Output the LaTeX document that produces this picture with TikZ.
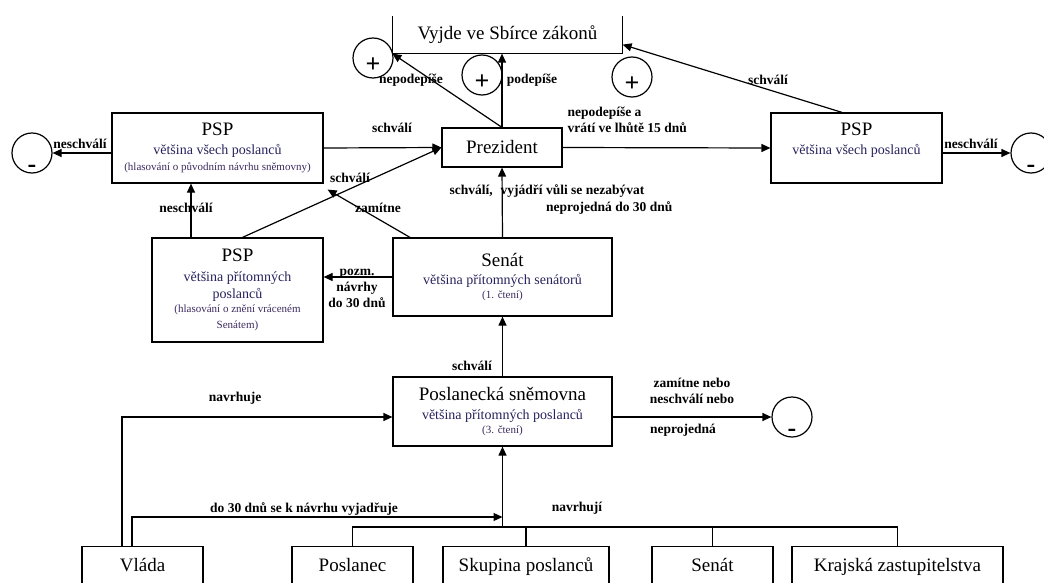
\documentclass[tikz,border=0pt]{standalone}
\usepackage{fontspec}
\setmainfont{Liberation Serif}
\usepackage{tikz}
\usetikzlibrary{arrows.meta,calc}
\usepackage{xcolor}
\definecolor{podtitul}{RGB}{38,33,92}
\definecolor{poznamka}{RGB}{60,42,94}

% Texty v ramecku
\newcommand{\boxtitul}[1]{{\fontsize{19}{19}\selectfont #1}}
\newcommand{\boxpod}[1]{{\color{podtitul}\fontsize{14}{14}\selectfont #1}}
\newcommand{\boxpozn}[1]{{\color{poznamka}\fontsize{11}{11}\selectfont #1}}

\begin{document}
\begin{tikzpicture}[x=1pt,y=-1pt,line width=1.2pt,
        sipka/.style={-{Triangle[length=9pt,width=8pt]}},
        box/.style={draw,rectangle,inner sep=0pt,align=center,font=\fontsize{11}{16}\selectfont},
        kruh/.style={draw,circle,minimum size=40pt,inner sep=0pt,font=\bfseries\fontsize{26}{26}\selectfont},
        popis/.style={inner sep=0pt,font=\bfseries\fontsize{13.5}{16}\selectfont}]

        \useasboundingbox (0,0) rectangle (1044,583);

        % Vyjde ve Sbirce zakonu (horni okraj chybi)
        \node[box,draw=none,minimum width=229pt,minimum height=36pt] (sbirka) at (507.5,35) {\boxtitul{Vyjde ve Sbírce zákonů}};
        \draw (sbirka.north west) -- (sbirka.south west) -- (sbirka.south east) -- (sbirka.north east);

        % Ramecky
        \node[box,minimum width=120pt,minimum height=39pt] (prez) at (502,147.5) {\boxtitul{Prezident}};
        \node[box,minimum width=211pt,minimum height=70pt] (pspA) at (217.5,148)
            {\boxtitul{PSP}\\[3pt]\boxpod{většina všech poslanců}\\\boxpozn{(hlasování o původním návrhu sněmovny)}};
        \node[box,minimum width=171pt,minimum height=70pt] (pspB) at (856.5,148)
            {\boxtitul{PSP}\\[3pt]\boxpod{většina všech poslanců}\\\boxpozn{\phantom{(}}};
        \node[box,minimum width=171pt,minimum height=104pt] (pspC) at (237.5,290)
            {\boxtitul{PSP}\\[4pt]\boxpod{většina přítomných}\\[1pt]\boxpod{poslanců}\\[-2pt]\boxpozn{(hlasování o znění vráceném}\\\boxpozn{Senátem)}};
        \node[box,minimum width=219pt,minimum height=78pt] (senat) at (502.5,277)
            {\boxtitul{Senát}\\[2pt]\boxpod{většina přítomných senátorů}\\[-2pt]\boxpozn{(1. čtení)}};
        \node[box,minimum width=219pt,minimum height=69pt] (psn) at (502.5,411.5)
            {\boxtitul{Poslanecká sněmovna}\\[3pt]\boxpod{většina přítomných poslanců}\\[-2pt]\boxpozn{(3. čtení)}};

        % Navrhovatele
        \foreach \jm/\x/\w/\t in {vlada/142.5/121pt/Vláda, poslanec/352.5/121pt/Poslanec,
                skupina/526/166pt/Skupina poslanců, senatB/712.5/121pt/Senát, kraje/897.5/211pt/Krajská zastupitelstva}
            \node[box,anchor=north,minimum width=\w,inner ysep=6pt,text height=19pt,text depth=40pt,
                font=\fontsize{19}{19}\selectfont] (\jm) at (\x,546) {\t};

        % Kruhy plus a minus
        \node[kruh] (plusA) at (373,58) {\raisebox{-15pt}[0pt][0pt]{+}};
        \node[kruh] (plusB) at (482,75) {\raisebox{-15pt}[0pt][0pt]{+}};
        \node[kruh] (plusC) at (632,77) {\raisebox{-15pt}[0pt][0pt]{+}};
        \node[kruh] (minusA) at (32,153) {\raisebox{-19.5pt}[0pt][0pt]{-}};
        \node[kruh] (minusB) at (1031,153) {\raisebox{-19.5pt}[0pt][0pt]{-}};
        \node[kruh] (minusC) at (792,417) {\raisebox{-19.5pt}[0pt][0pt]{-}};

        % Sipky
        \draw[sipka] (prez.north) -- (prez.north |- sbirka.south);
        \draw[sipka] (prez.north) -- (sbirka.south west);
        \draw[sipka] (prez.east) -- (pspB.west);
        \draw[sipka] ([xshift=-14.5pt]pspB.north) -- ([yshift=9pt]sbirka.south east);
        \draw[sipka] (pspB.east |- minusB) -- (minusB.west);
        \draw[sipka] (pspA.east) -- (prez.west);
        \draw[sipka] (pspA.west |- minusA) -- (minusA.east);
        \draw[sipka] ([xshift=5pt]pspC.north) -- (prez.west);
        \draw[sipka] ([xshift=-46.5pt]pspC.north) -- ([xshift=-46.5pt]pspC.north |- pspA.south);
        \draw[sipka] ([xshift=-92.5pt]senat.north) -- ([shift={(4pt,-6pt)}]pspA.south east);
        \draw[sipka] (senat.west) -- (senat.west -| pspC.east);
        \draw[sipka] (senat.north) -- (prez.south);
        \draw[sipka] (psn.north) -- (senat.south);
        \draw[sipka] (psn.east |- minusC) -- (minusC.west);

        % Sbernice navrhovatelu
        \coordinate (uzel) at (502.5,527);
        \draw[sipka] (uzel) -- (psn.south);
        \draw (poslanec.north) |- (uzel) -| (kraje.north);
        \foreach \jm in {skupina,senatB}
            \draw (\jm.north) -- (\jm.north |- uzel);
        \draw[sipka] ([xshift=-20.5pt]vlada.north) |- ([yshift=-5.5pt]psn.west);
        \draw[sipka] ([xshift=-10.5pt]vlada.north) |- ([yshift=10pt]uzel);

        % Popisky
        \node[popis] (lNepodepiseA) at (411,80) {nepodepíše};
        \node[popis] (lPodepise) at (532,80) {podepíše};
        \node[popis] (lSchvaliA) at (768,80) {schválí};
        \node[popis,align=left,anchor=west] (lVrati) at (567,120) {nepodepíše a\\ vrátí ve lhůtě 15 dnů};
        \node[popis] (lNeschvaliB) at (971,144) {neschválí};
        \node[popis] (lNeschvaliA) at (80,144) {neschválí};
        \node[popis] (lSchvaliB) at (392,128) {schválí};
        \node[popis] (lSchvaliC) at (350,178) {schválí};
        \node[popis] (lZamitne) at (378,208) {zamítne};
        \node[popis] (lNeschvaliC) at (186,208) {neschválí};
        \node[popis,anchor=west] (lVule) at (449,191) {schválí,\hspace{8pt}vyjádří vůli se nezabývat};
        \node[popis,anchor=east] (lNeprojednaA) at (673,208) {neprojedná do 30 dnů};
        \node[popis,align=center] (lPozm) at (357,288) {pozm.\\návrhy\\do 30 dnů};
        \node[popis] (lSchvaliD) at (472,366) {schválí};
        \node[popis] (lNavrhuje) at (235,398) {navrhuje};
        \node[popis] (lVyjadruje) at (304,509) {do 30 dnů se k návrhu vyjadřuje};
        \node[popis] (lNavrhuji) at (577,508) {navrhují};
        \node[popis,align=center] (lZamitneNebo) at (692,391) {zamítne nebo\\neschválí nebo};
        \node[popis] (lNeprojednaB) at (683,430) {neprojedná};

\end{tikzpicture}
\end{document}
